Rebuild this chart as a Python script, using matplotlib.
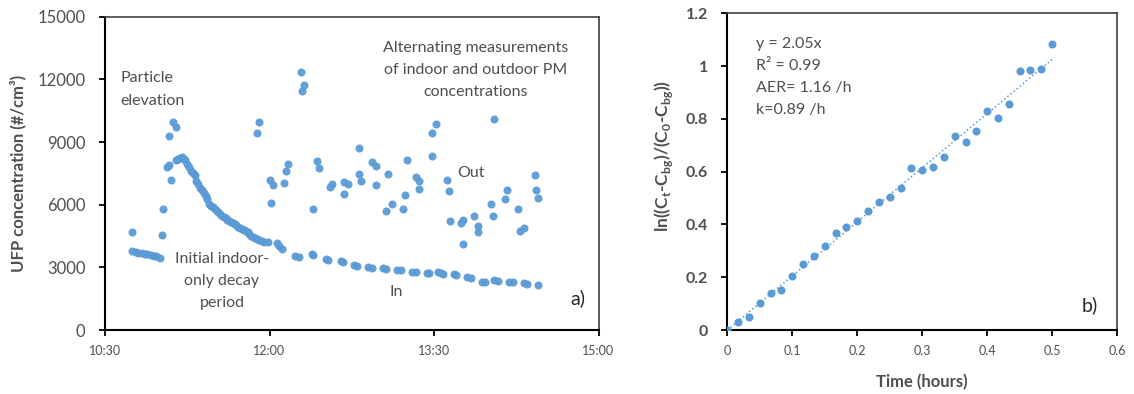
import matplotlib
matplotlib.use("Agg")
import matplotlib.pyplot as plt
import numpy as np
from matplotlib.ticker import FixedLocator, FuncFormatter

plt.rcParams['font.family'] = ['Lato', 'DejaVu Sans']
plt.rcParams['mathtext.fontset'] = 'custom'
plt.rcParams['mathtext.rm'] = 'Lato'
plt.rcParams['mathtext.bf'] = 'Lato:bold'

# ---------------- Panel a) data ----------------
indoor_times = [
    "10:45", "10:47", "10:48", "10:50", "10:52", "10:53", "10:55", "10:57", "10:58", "11:00",
    "11:09", "11:10", "11:11", "11:12", "11:13", "11:14", "11:15", "11:16", "11:17", "11:18",
    "11:19", "11:20", "11:21", "11:22", "11:23", "11:24", "11:25", "11:26", "11:27", "11:28",
    "11:29", "11:30", "11:31", "11:32", "11:33", "11:34", "11:35", "11:36", "11:37", "11:38",
    "11:39", "11:40", "11:41", "11:42", "11:43", "11:44", "11:45", "11:46", "11:47", "11:48",
    "11:49", "11:50", "11:51", "11:52", "11:53", "11:54", "11:56", "11:57", "11:59",
    "12:04", "12:05", "12:07",
    "12:14", "12:16", "12:23", "12:24", "12:31", "12:32", "12:39", "12:40", "12:46", "12:48",
    "12:54", "12:56", "13:02", "13:04", "13:10", "13:12", "13:18", "13:20", "13:26", "13:27",
    "13:32", "13:34", "13:35", "13:41", "13:42", "13:48", "13:50", "13:56", "13:58",
    "14:03", "14:05", "14:11", "14:13", "14:19", "14:21", "14:27",
]
indoor_values = [
    3800, 3720, 3690, 3670, 3650, 3620, 3600, 3560, 3520, 3450,
    8150, 8210, 8250, 8260, 8200, 8140, 7950, 7800, 7620, 7500,
    7400, 7150, 7000, 6815, 6700, 6570, 6400, 6250, 6050, 5950,
    5880, 5800, 5700, 5640, 5560, 5480, 5420, 5340, 5280, 5210,
    5150, 5100, 5060, 4990, 4950, 4880, 4830, 4800, 4720, 4680,
    4580, 4500, 4450, 4400, 4350, 4300, 4250, 4220, 4200,
    4150, 4000, 3900,
    3520, 3480, 3620, 3600, 3400, 3360, 3320, 3260, 3120, 3080,
    3020, 2990, 2960, 2930, 2880, 2850, 2800, 2770, 2750, 2720,
    2760, 2720, 2700, 2680, 2640, 2520, 2470, 2320, 2280,
    2400, 2350, 2320, 2280, 2250, 2210, 2150,
]

outdoor_times = [
    "10:45", "11:01", "11:02", "11:04", "11:05", "11:05", "11:06", "11:07", "11:09",
    "11:53", "11:54", "12:00", "12:01", "12:02",
    "12:08", "12:09", "12:10", "12:17", "12:18", "12:19",
    "12:24", "12:26", "12:27", "12:33", "12:34",
    "12:41", "12:41", "12:43", "12:49", "12:49", "12:50",
    "12:56", "12:58", "12:58", "13:04", "13:05", "13:07",
    "13:13", "13:14", "13:15", "13:20", "13:22", "13:22",
    "13:29", "13:29", "13:31", "13:37", "13:38", "13:39",
    "13:45", "13:46", "13:46", "13:52", "13:54", "13:54",
    "14:01", "14:02", "14:03", "14:09", "14:10",
    "14:16", "14:17", "14:19", "14:25", "14:26", "14:27",
]
outdoor_values = [
    4700, 4530, 5800, 7800, 7900, 9310, 7190, 9950, 9710,
    9420, 9980, 7190, 6090, 6950,
    7060, 7620, 7940, 12360, 11440, 11720,
    5800, 8100, 7780, 6850, 6980,
    7110, 6530, 7010, 7490, 8700, 7140,
    8020, 6950, 7860, 5690, 7460, 6015,
    5800, 6460, 8150, 7330, 6770, 7140,
    8310, 9420, 9870, 7190, 6660, 5240,
    5130, 4130, 5290, 5450, 4690, 4970,
    6015, 5450, 10080, 6285, 6690,
    5800, 4730, 4885, 7430, 6720, 6300,
]

a_xticks = ["10:30", "12:00", "13:30", "15:00"]
a_yticks = [0, 3000, 6000, 9000, 12000, 15000]

# ---------------- Panel b) data ----------------
b_time_hours = [0, 1/60, 2/60, 3/60, 4/60, 5/60, 6/60, 7/60, 8/60, 9/60, 10/60,
                11/60, 12/60, 13/60, 14/60, 15/60, 16/60, 17/60, 18/60, 19/60, 20/60,
                21/60, 22/60, 23/60, 24/60, 25/60, 26/60, 27/60, 28/60, 29/60, 30/60]
b_ln_ratio = [0.0, 0.031, 0.05, 0.104, 0.139, 0.153, 0.206, 0.25, 0.282, 0.318, 0.367,
              0.389, 0.412, 0.45, 0.484, 0.503, 0.537, 0.615, 0.607, 0.618, 0.657,
              0.734, 0.713, 0.753, 0.831, 0.805, 0.856, 0.983, 0.985, 0.989, 1.083]
b_slope = 2.05
b_xticks = [0, 0.1, 0.2, 0.3, 0.4, 0.5, 0.6]
b_yticks = [0, 0.2, 0.4, 0.6, 0.8, 1.0, 1.2]


def to_hours(s):
    h, m = s.split(":")
    return int(h) + int(m) / 60.0


BLUE = "#5B9BD5"
GRAY = "#4F4F4F"

fig = plt.figure(figsize=(11.34, 3.94), dpi=100)
ax1 = fig.add_axes([0.0926, 0.1624, 0.4352, 0.7952])
ax2 = fig.add_axes([0.6414, 0.1624, 0.3437, 0.8038])

for ax in (ax1, ax2):
    for side in ("top", "right"):
        ax.spines[side].set_color("#404040")
        ax.spines[side].set_linewidth(1.2)
    for side in ("left", "bottom"):
        ax.spines[side].set_color("#000000")
        ax.spines[side].set_linewidth(1.5)
    ax.tick_params(direction="out", length=4, width=1.3, color="#000000")

# ---- Panel a
ax1.plot([to_hours(t) for t in indoor_times], indoor_values, "o", color=BLUE,
         ms=5.8, mec="none", alpha=0.95)
ax1.plot([to_hours(t) for t in outdoor_times], outdoor_values, "o", color=BLUE,
         ms=5.8, mec="none", alpha=0.95)
ax1.set_xlim(to_hours(a_xticks[0]), to_hours(a_xticks[-1]))
ax1.set_ylim(a_yticks[0], a_yticks[-1])
ax1.xaxis.set_major_locator(FixedLocator([to_hours(t) for t in a_xticks]))
ax1.xaxis.set_major_formatter(FuncFormatter(
    lambda v, p: "%d:%02d" % (int(v), int(round((v - int(v)) * 60)))))
ax1.set_yticks(a_yticks)
ax1.tick_params(axis="y", labelsize=12, labelcolor=GRAY, pad=10)
ax1.tick_params(axis="x", labelsize=9, labelcolor=GRAY, pad=7)
ax1.set_ylabel("UFP concentration (#/cm³)", fontsize=12, fontweight="bold",
               color=GRAY, labelpad=8)

tkw = dict(transform=ax1.transAxes, color=GRAY, fontsize=11.5)
ax1.text(0.032, 0.768, "Particle\nelevation", ha="left", va="center",
         linespacing=1.75, **tkw)
ax1.text(0.75, 0.83, "Alternating measurements\nof indoor and outdoor PM\nconcentrations",
         ha="center", va="center", linespacing=1.75, **tkw)
ax1.text(0.742, 0.501, "Out", ha="center", va="center", **tkw)
ax1.text(0.59, 0.121, "In", ha="center", va="center", **tkw)
ax1.text(0.237, 0.156, "Initial indoor-\nonly decay\nperiod", ha="center",
         va="center", linespacing=1.75, **tkw)
ax1.text(0.959, 0.102, "a)", ha="center", va="center", transform=ax1.transAxes,
         color="#262626", fontsize=14)

# ---- Panel b
ax2.plot(b_time_hours, b_ln_ratio, "o", color=BLUE, ms=5.8, mec="none", zorder=3)
xfit = np.array([b_time_hours[0], b_time_hours[-1]])
ax2.plot(xfit, b_slope * xfit, ":", color=BLUE, lw=1.1, zorder=2)
ax2.set_xlim(b_xticks[0], b_xticks[-1])
ax2.set_ylim(b_yticks[0], b_yticks[-1])
ax2.set_xticks(b_xticks)
ax2.set_xticklabels(["0", "0.1", "0.2", "0.3", "0.4", "0.5", "0.6"])
ax2.set_yticks(b_yticks)
ax2.set_yticklabels(["0", "0.2", "0.4", "0.6", "0.8", "1", "1.2"])
ax2.tick_params(axis="y", labelsize=11.5, labelcolor=GRAY, pad=10)
for lab in ax2.get_yticklabels():
    lab.set_fontweight("bold")
ax2.tick_params(axis="x", labelsize=9, labelcolor=GRAY, pad=7)
ax2.set_xlabel("Time (hours)", fontsize=12, fontweight="bold", color=GRAY, labelpad=12)
ax2.set_ylabel(r"ln((C$_\mathbf{t}$-C$_\mathbf{bg}$)/(C$_\mathbf{0}$-C$_\mathbf{bg}$))",
               fontsize=12.5, fontweight="bold", color=GRAY)
ax2.yaxis.set_label_coords(-0.135, 0.55)

ax2.text(0.0737, 0.799, "y = 2.05x\nR² = 0.99\nAER= 1.16 /h\nk=0.89 /h",
         ha="left", va="center", transform=ax2.transAxes, color=GRAY,
         fontsize=11.5, linespacing=1.75)
ax2.text(0.929, 0.079, "b)", ha="center", va="center", transform=ax2.transAxes,
         color="#262626", fontsize=14)

fig.savefig("out.png", dpi=100)
